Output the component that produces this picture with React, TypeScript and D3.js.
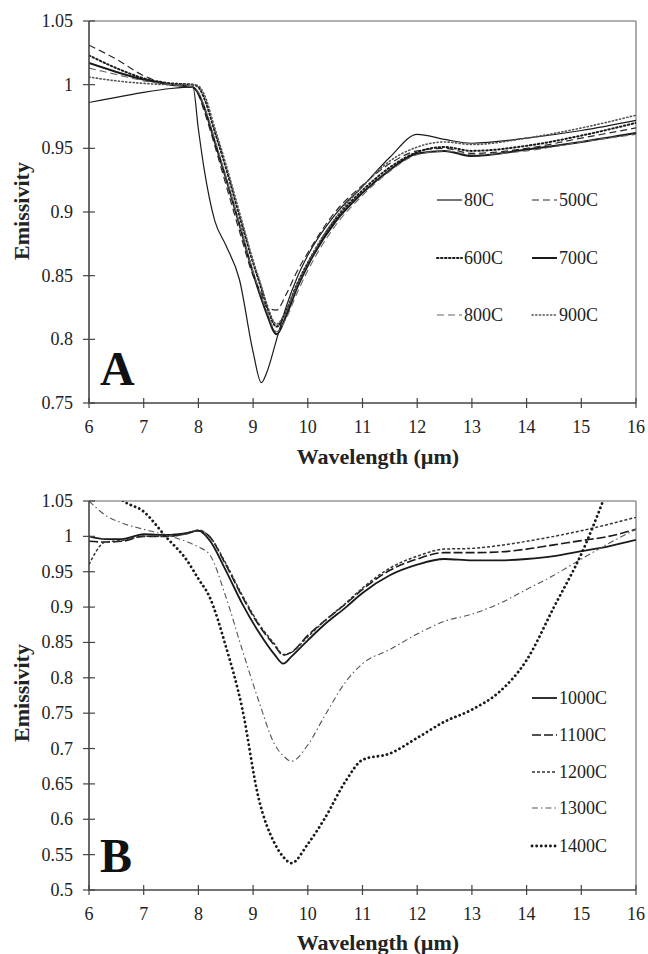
import React from "react";
import * as d3 from "d3";

// ---------- DATA ----------
const wlA = [6, 6.5, 7, 7.5, 7.9, 8.0, 8.1, 8.3, 8.5, 8.75, 9.0, 9.15, 9.25, 9.43, 9.6, 9.8, 10, 10.5, 11, 11.5, 12, 12.5, 13, 14, 15, 16];
const e80C = [0.986, 0.99, 0.994, 0.997, 0.998, 0.965, 0.935, 0.893, 0.874, 0.847, 0.79, 0.766, 0.774, 0.8, 0.825, 0.848, 0.866, 0.898, 0.92, 0.943, 0.961, 0.957, 0.954, 0.958, 0.964, 0.972];
const e500C = [1.031, 1.02, 1.007, 1.0, 0.998, 0.992, 0.98, 0.952, 0.922, 0.885, 0.85, 0.836, 0.825, 0.823, 0.835, 0.853, 0.868, 0.9, 0.921, 0.938, 0.948, 0.95, 0.946, 0.95, 0.958, 0.966];
const e600C = [1.023, 1.013, 1.005, 1.001, 1.0, 0.998, 0.99, 0.963, 0.935, 0.897, 0.86, 0.84, 0.826, 0.81, 0.822, 0.843, 0.86, 0.894, 0.917, 0.935, 0.947, 0.951, 0.948, 0.952, 0.96, 0.97];
const e700C = [1.017, 1.01, 1.004, 1.0, 0.998, 0.993, 0.983, 0.955, 0.927, 0.89, 0.852, 0.832, 0.82, 0.804, 0.818, 0.84, 0.858, 0.892, 0.915, 0.933, 0.946, 0.948, 0.944, 0.949, 0.955, 0.962];
const e800C = [1.013, 1.008, 1.003, 1.0, 0.998, 0.994, 0.984, 0.957, 0.928, 0.891, 0.853, 0.834, 0.822, 0.806, 0.816, 0.836, 0.854, 0.889, 0.913, 0.932, 0.945, 0.948, 0.945, 0.948, 0.955, 0.961];
const e900C = [1.006, 1.003, 1.001, 1.0, 1.0, 0.999, 0.993, 0.966, 0.938, 0.9, 0.862, 0.842, 0.828, 0.812, 0.822, 0.842, 0.86, 0.895, 0.92, 0.94, 0.951, 0.955, 0.953, 0.958, 0.966, 0.976];

const wlB = [6, 6.3, 6.6, 7, 7.4, 7.8, 8.0, 8.2, 8.5, 8.8, 9.1, 9.4, 9.55, 9.7, 10, 10.3, 10.7, 11, 11.5, 12, 12.5, 13, 13.5, 14, 14.5, 15, 15.5, 16];
const e1000C = [1.0, 0.996, 0.996, 1.003, 1.002, 1.005, 1.008, 0.995, 0.952, 0.905, 0.865, 0.832, 0.82, 0.83, 0.853, 0.875, 0.9, 0.92, 0.945, 0.96, 0.968, 0.966, 0.966, 0.968, 0.972, 0.979, 0.986, 0.995];
const e1100C = [0.993, 0.992, 0.993, 1.0, 1.0, 1.004, 1.008, 1.0, 0.96, 0.915, 0.875, 0.845, 0.832, 0.836, 0.86, 0.88, 0.905, 0.925, 0.952, 0.968, 0.977, 0.977, 0.978, 0.982, 0.988, 0.994, 1.0, 1.01];
const e1200C = [0.96, 0.992, 0.994, 1.0, 1.0, 1.004, 1.009, 1.0, 0.962, 0.917, 0.877, 0.847, 0.833, 0.836, 0.858, 0.88, 0.906, 0.927, 0.955, 0.972, 0.982, 0.983, 0.987, 0.993, 1.0, 1.008, 1.017, 1.027];
const e1300C = [1.05, 1.03, 1.019, 1.01, 1.002, 0.992, 0.985, 0.975, 0.915, 0.84, 0.768, 0.705, 0.69, 0.682, 0.705, 0.745, 0.795, 0.82, 0.84, 0.862, 0.88, 0.89, 0.905, 0.925, 0.945, 0.968, 0.99, 1.01];
const e1400C = [1.12, 1.08, 1.052, 1.035, 1.0, 0.965, 0.94, 0.915, 0.845, 0.757, 0.63, 0.565, 0.547, 0.538, 0.565, 0.6, 0.655, 0.684, 0.693, 0.715, 0.738, 0.755, 0.78, 0.825, 0.9, 0.975, 1.07, 1.17];

const namesA = ["80C", "500C", "600C", "700C", "800C", "900C"];
const valuesA = [e80C, e500C, e600C, e700C, e800C, e900C];
const namesB = ["1000C", "1100C", "1200C", "1300C", "1400C"];
const valuesB = [e1000C, e1100C, e1200C, e1300C, e1400C];

const xTicks = [6, 7, 8, 9, 10, 11, 12, 13, 14, 15, 16];
const yTicksA = [0.75, 0.8, 0.85, 0.9, 0.95, 1, 1.05];
const yTicksB = [0.5, 0.55, 0.6, 0.65, 0.7, 0.75, 0.8, 0.85, 0.9, 0.95, 1, 1.05];

// ---------- STYLES ----------
type St = { w: number; dash?: string; color: string; cap?: string };
const stylesA: St[] = [
  { w: 1.2, color: "#1a1a1a" },
  { w: 1.2, dash: "7,4", color: "#2a2a2a" },
  { w: 2, dash: "1.5,2.5", color: "#1a1a1a", cap: "round" },
  { w: 2, color: "#1a1a1a" },
  { w: 1.1, dash: "7,4", color: "#666" },
  { w: 1.6, dash: "1.2,2.5", color: "#555", cap: "round" },
];
const stylesB: St[] = [
  { w: 1.8, color: "#1a1a1a" },
  { w: 1.6, dash: "9,3", color: "#1a1a1a" },
  { w: 1.5, dash: "3,2", color: "#333" },
  { w: 1.1, dash: "6,3,1.5,3", color: "#555" },
  { w: 2.8, dash: "0.1,4.5", color: "#1a1a1a", cap: "round" },
];

const FONT = "Liberation Serif, DejaVu Serif, serif";
const TXT = "#222";

type PanelProps = {
  top: number;
  bottom: number;
  domain: [number, number];
  yTicks: number[];
  wl: number[];
  names: string[];
  values: number[][];
  styles: St[];
  letter: string;
  letterY: number;
  titleY: number;
  emY: number;
  legend: { x: number; y: number }[];
  id: string;
};

const X0 = 89;
const X1 = 636;

function Panel(p: PanelProps) {
  const x = d3.scaleLinear().domain([6, 16]).range([X0, X1]);
  const y = d3.scaleLinear().domain(p.domain).range([p.bottom, p.top]);
  const line = d3
    .line<number>()
    .x((_, i) => x(p.wl[i]))
    .y((v) => y(v))
    .curve(d3.curveMonotoneX);
  const fmt = (v: number) => String(+v.toFixed(2));
  return (
    <g>
      <defs>
        <clipPath id={"clip" + p.id}>
          <rect x={X0} y={p.top} width={X1 - X0} height={p.bottom - p.top} />
        </clipPath>
      </defs>
      <line x1={X0} x2={X1} y1={p.top} y2={p.top} stroke="#666" strokeWidth={1.2} />
      <line x1={X1} x2={X1} y1={p.top} y2={p.bottom} stroke="#777" strokeWidth={1.2} />
      <g clipPath={`url(#clip${p.id})`}>
        {p.values.map((vals, i) => (
          <path
            key={p.names[i]}
            d={line(vals) || ""}
            fill="none"
            stroke={p.styles[i].color}
            strokeWidth={p.styles[i].w}
            strokeDasharray={p.styles[i].dash}
            strokeLinecap={(p.styles[i].cap as any) || "butt"}
            strokeLinejoin="round"
          />
        ))}
      </g>
      <line x1={X0} x2={X0} y1={p.top} y2={p.bottom} stroke="#444" strokeWidth={1.6} />
      <line x1={X0} x2={X1} y1={p.bottom} y2={p.bottom} stroke="#444" strokeWidth={1.6} />
      {p.yTicks.map((t) => (
        <g key={"y" + t}>
          <line x1={X0 - 6} x2={X0 + 6} y1={y(t)} y2={y(t)} stroke="#444" strokeWidth={1.2} />
          <text x={73} y={y(t) + 6} textAnchor="end" fontFamily={FONT} fontSize={18} fill={TXT}>
            {fmt(t)}
          </text>
        </g>
      ))}
      {xTicks.map((t) => (
        <g key={"x" + t}>
          <line x1={x(t)} x2={x(t)} y1={p.bottom - 5} y2={p.bottom + 5} stroke="#444" strokeWidth={1.2} />
          <text x={x(t)} y={p.bottom + 30} textAnchor="middle" fontFamily={FONT} fontSize={18} fill={TXT}>
            {t}
          </text>
        </g>
      ))}
      <text x={378} y={p.titleY} textAnchor="middle" fontFamily={FONT} fontWeight="bold" fontSize={22} fill={TXT}>
        Wavelength (µm)
      </text>
      <text
        transform={`translate(29,${p.emY}) rotate(-90)`}
        textAnchor="middle"
        fontFamily={FONT}
        fontWeight="bold"
        fontSize={22}
        fill={TXT}
      >
        Emissivity
      </text>
      <text x={100} y={p.letterY} fontFamily={FONT} fontWeight="bold" fontSize={48} fill="#111">
        {p.letter}
      </text>
      {p.names.map((n, i) => {
        const L = p.legend[i];
        const s = p.styles[i];
        return (
          <g key={"lg" + n}>
            <line
              x1={L.x}
              x2={L.x + 25}
              y1={L.y}
              y2={L.y}
              stroke={s.color}
              strokeWidth={s.w}
              strokeDasharray={s.dash}
              strokeLinecap={(s.cap as any) || "butt"}
            />
            <text x={L.x + 27} y={L.y + 6} fontFamily={FONT} fontSize={18} fill={TXT}>
              {n}
            </text>
          </g>
        );
      })}
    </g>
  );
}

export default function App() {
  const legA = [
    { x: 437, y: 200 },
    { x: 532, y: 200 },
    { x: 437, y: 258 },
    { x: 532, y: 258 },
    { x: 437, y: 315 },
    { x: 532, y: 315 },
  ];
  const legB = [698, 735, 772, 808, 846].map((yy) => ({ x: 532, y: yy }));
  return (
    <svg width={648} height={954} style={{ position: "absolute", left: 0, top: 0, background: "#fff" }}>
      <rect width={648} height={954} fill="#fff" />
      <Panel
        id="A"
        top={21}
        bottom={403}
        domain={[0.75, 1.05]}
        yTicks={yTicksA}
        wl={wlA}
        names={namesA}
        values={valuesA}
        styles={stylesA}
        letter="A"
        letterY={385}
        titleY={464}
        emY={211}
        legend={legA}
      />
      <Panel
        id="B"
        top={501}
        bottom={890}
        domain={[0.5, 1.05]}
        yTicks={yTicksB}
        wl={wlB}
        names={namesB}
        values={valuesB}
        styles={stylesB}
        letter="B"
        letterY={872}
        titleY={950}
        emY={693}
        legend={legB}
      />
    </svg>
  );
}
